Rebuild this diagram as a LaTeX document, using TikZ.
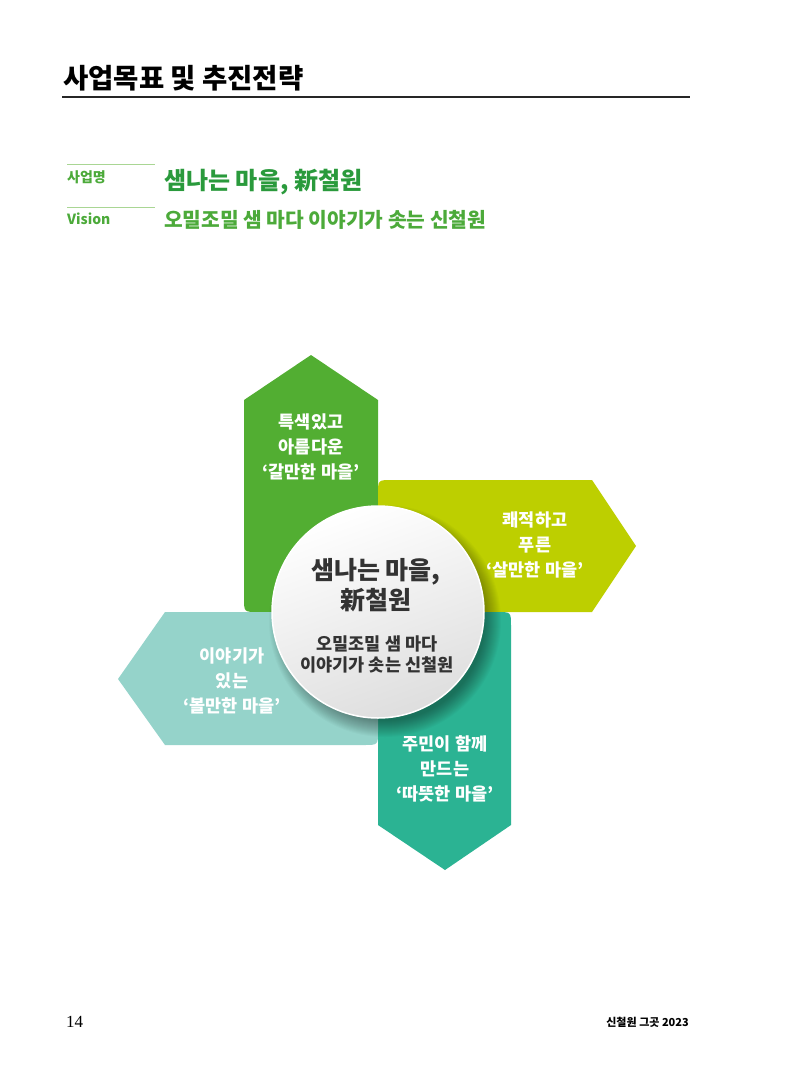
\documentclass[tikz,border=0pt]{standalone}
\usepackage{fontspec}
\setmainfont{Noto Sans CJK KR}
\newfontfamily\serifnum{Liberation Serif}
\definecolor{cTop}{HTML}{52AE32}
\definecolor{cRight}{HTML}{BDCF00}
\definecolor{cBottom}{HTML}{2BB393}
\definecolor{cLeft}{HTML}{95D3CA}
\definecolor{cDarkGreen}{HTML}{2A9A3C}
\definecolor{cGreen}{HTML}{4CAA3A}
\definecolor{cRule}{HTML}{A9D694}
\definecolor{cHubText}{HTML}{333333}
\definecolor{cHubEdge}{HTML}{DEDEDE}
\tikzset{
  armtext/.style={text=white, align=center, inner sep=0pt, font=\bfseries\fontsize{17.5}{25}\selectfont},
  hubtitle/.style={text=cHubText, align=center, inner sep=0pt, font=\bfseries\fontsize{25}{30}\selectfont},
  hubsub/.style={text=cHubText, align=center, inner sep=0pt, font=\bfseries\fontsize{17.5}{21}\selectfont},
  label/.style={anchor=west, inner sep=0pt, text=cGreen, font=\bfseries\fontsize{14}{16}\selectfont},
}
\begin{document}
\begin{tikzpicture}[x=1pt,y=-1pt]
\useasboundingbox (0,0) rectangle (800,1066);
% header
\node[anchor=west, inner sep=0pt, font=\bfseries\fontsize{27.5}{30}\selectfont] (title) at (63,78) {사업목표 및 추진전략};
\draw[line width=1.5pt, black!85] (62,97) -- (690,97);
% name / vision
\draw[line width=1pt, cRule] (67,164) -- (155,164);
\draw[line width=1pt, cRule] (67,207) -- (155,207);
\node[label] (lblname) at (67,177) {사업명};
\node[label] (lblvision) at (67,219) {Vision};
\node[anchor=west, inner sep=0pt, text=cDarkGreen, font=\bfseries\fontsize{24}{27}\selectfont] (name) at (164,182) {샘나는 마을, 新철원};
\node[anchor=west, inner sep=0pt, text=cGreen, font=\bfseries\fontsize{20.3}{23}\selectfont] (vision) at (164,220) {오밀조밀 샘 마다 이야기가 솟는 신철원};
% arms
\fill[cTop] (378,400) -- (311,355) -- (244,400) -- (244,598) .. controls (244,612) .. (258,612) -- (378,612) -- cycle;
\fill[cRight] (378,612) -- (378,494) .. controls (378,480) .. (392,480) -- (592,480) -- (636,546) -- (592,612) -- cycle;
\fill[cBottom] (378,612) -- (497,612) .. controls (511,612) .. (511,626) -- (511,825) -- (445,870) -- (378,825) -- cycle;
\fill[cLeft] (378,612) -- (378,731) .. controls (378,745) .. (364,745) -- (165,745) -- (118,679) -- (165,612) -- cycle;
% arm texts
\node[armtext] (ttop) at (311,447) {특색있고\\아름다운\\‘갈만한 마을’};
\node[armtext] (tright) at (535,545) {쾌적하고\\푸른\\‘살만한 마을’};
\node[armtext] (tleft) at (232,681) {이야기가\\있는\\‘볼만한 마을’};
\node[armtext] (tbottom) at (445,769) {주민이 함께\\만드는\\‘따뜻한 마을’};
% soft shadow of the hub
\foreach \r in {0,...,16}
  \fill[black, opacity=0.022] (385,621) circle[radius=100+\r];
% hub
\node[circle, minimum size=212pt, inner sep=0pt, draw=white, line width=1.5pt,
  top color=white, bottom color=cHubEdge, shading angle=20] (hub) at (378,612) {};
\node[hubtitle] (hubt) at (376,585) {샘나는 마을,\\新철원};
\node[hubsub] (hubs) at (377,654) {오밀조밀 샘 마다\\이야기가 솟는 신철원};
% footer
\node[anchor=west, inner sep=0pt, font=\serifnum\fontsize{17}{20}\selectfont] (page) at (66,1022) {14};
\node[anchor=east, inner sep=0pt, font=\bfseries\fontsize{11}{13}\selectfont] (foot) at (689,1022) {신철원 그곳 2023};
\end{tikzpicture}
\end{document}
